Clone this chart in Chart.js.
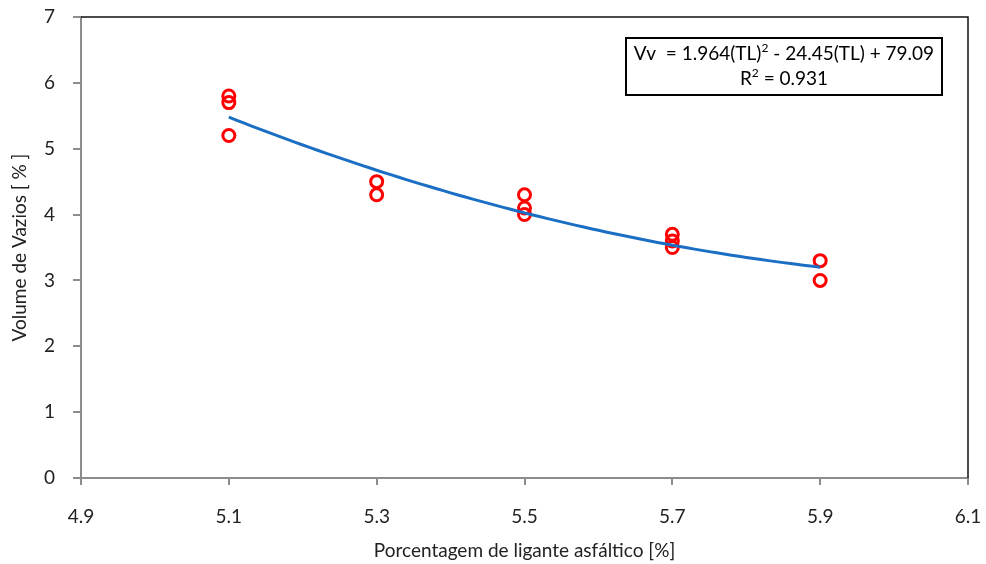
<!DOCTYPE html>
<html>
<head>
<meta charset="utf-8">
<script src="https://cdn.jsdelivr.net/npm/chart.js@4.4.0/dist/chart.umd.min.js"></script>
<style>
    html, body { margin: 0; padding: 0; background: #fff; }
    #wrap { width: 986px; height: 564px; }
</style>
</head>
<body>
<div id="wrap"><canvas id="vv-chart" width="986" height="564"></canvas></div>
<script>
// Measured voids per binder content
const binderContent = [5.1, 5.1, 5.1, 5.3, 5.3, 5.5, 5.5, 5.5, 5.7, 5.7, 5.7, 5.9, 5.9];
const voidsVolume = [5.8, 5.7, 5.2, 4.5, 4.3, 4.3, 4.1, 4.0, 3.7, 3.6, 3.5, 3.3, 3.0];

// Polynomial trendline Vv = a*TL^2 + b*TL + c
const trendCoeffs = [1.964, -24.45, 79.09];
const trendRange = [5.1, 5.9];
// Equation text, "^" marks the superscript part
const equationLines = [
    ["Vv  = 1.964(TL)", "^2", " - 24.45(TL) + 79.09"],
    ["R", "^2", " = 0.931"]
];

const xTicks = [4.9, 5.1, 5.3, 5.5, 5.7, 5.9, 6.1];

const scatterPoints = binderContent.map((x, i) => ({ x: x, y: voidsVolume[i] }));

const trendPoints = [];
for (let k = 0; k <= 80; k++) {
    const x = trendRange[0] + (trendRange[1] - trendRange[0]) * k / 80;
    trendPoints.push({ x: x, y: trendCoeffs[0] * x * x + trendCoeffs[1] * x + trendCoeffs[2] });
}

const FONT = "Lato, 'Open Sans', sans-serif";

function drawRichLine(ctx, parts, cx, cy, size) {
    const normal = size + "px " + FONT;
    const small = Math.round(size * 0.62) + "px " + FONT;
    let total = 0;
    const widths = parts.map(p => {
        ctx.font = p[0] === "^" ? small : normal;
        const w = ctx.measureText(p[0] === "^" ? p.slice(1) : p).width;
        total += w;
        return w;
    });
    let x = cx - total / 2;
    ctx.textAlign = "left";
    ctx.textBaseline = "middle";
    parts.forEach((p, i) => {
        const sup = p[0] === "^";
        ctx.font = sup ? small : normal;
        ctx.fillText(sup ? p.slice(1) : p, x, sup ? cy - size * 0.3 : cy);
        x += widths[i];
    });
}

// Black frame on top/right plus the equation box
const framePlugin = {
    id: "frame",
    afterDraw(chart) {
        const { ctx, chartArea: a } = chart;
        ctx.save();
        ctx.strokeStyle = "#111";
        ctx.lineWidth = 1.5;
        ctx.beginPath();
        ctx.moveTo(a.left, a.top);
        ctx.lineTo(a.right, a.top);
        ctx.lineTo(a.right, a.bottom);
        ctx.stroke();

        const bx = 626, by = 38, bw = 316, bh = 57;
        ctx.fillStyle = "#fff";
        ctx.fillRect(bx, by, bw, bh);
        ctx.lineWidth = 2;
        ctx.strokeStyle = "#000";
        ctx.strokeRect(bx, by, bw, bh);
        ctx.fillStyle = "#000";
        drawRichLine(ctx, equationLines[0], bx + bw / 2, by + 16, 19);
        drawRichLine(ctx, equationLines[1], bx + bw / 2, by + 41, 19);
        ctx.restore();
    }
};

const ctx = document.getElementById("vv-chart").getContext("2d");
new Chart(ctx, {
    type: "scatter",
    data: {
        datasets: [{
            label: "Trendline",
            type: "line",
            data: trendPoints,
            borderColor: "#1a6fc4",
            borderWidth: 3,
            pointRadius: 0,
            fill: false,
            tension: 0,
            order: 0
        }, {
            label: "Vv",
            data: scatterPoints,
            pointStyle: "circle",
            pointRadius: 6,
            pointBorderWidth: 3,
            pointBorderColor: "#ff0000",
            pointBackgroundColor: "rgba(255,255,255,0)",
            order: 1
        }]
    },
    options: {
        responsive: false,
        animation: false,
        layout: { padding: { top: 17, right: 18, left: 0, bottom: 0 } },
        plugins: {
            legend: { display: false },
            tooltip: { enabled: false }
        },
        scales: {
            x: {
                type: "linear",
                min: 4.9,
                max: 6.1,
                afterBuildTicks: scale => { scale.ticks = xTicks.map(v => ({ value: v })); },
                afterFit: scale => {
                    scale.height = 86;
                    scale.paddingLeft = 0;
                    scale.paddingRight = 0;
                },
                grid: { drawOnChartArea: false, drawTicks: true, tickLength: 7, color: "#8c8c8c", lineWidth: 2 },
                border: { display: true, color: "#8c8c8c", width: 2 },
                ticks: {
                    padding: 20,
                    color: "#222",
                    font: { family: FONT, size: 19 },
                    callback: v => v.toFixed(1)
                },
                title: {
                    display: true,
                    text: "Porcentagem de ligante asfáltico [%]",
                    color: "#222",
                    font: { family: FONT, size: 19 },
                    padding: { top: 10, bottom: 2 }
                }
            },
            y: {
                min: 0,
                max: 7,
                afterFit: scale => {
                    scale.width = 81;
                    scale.paddingTop = 0;
                    scale.paddingBottom = 0;
                },
                grid: { drawOnChartArea: false, drawTicks: true, tickLength: 8, color: "#8c8c8c", lineWidth: 2 },
                border: { display: true, color: "#8c8c8c", width: 2 },
                ticks: {
                    stepSize: 1,
                    padding: 18,
                    color: "#222",
                    font: { family: FONT, size: 19 }
                },
                title: {
                    display: true,
                    text: "Volume de Vazios [ % ]",
                    color: "#222",
                    font: { family: FONT, size: 19 },
                    padding: { top: 8, bottom: 4 }
                }
            }
        }
    },
    plugins: [framePlugin]
});
</script>
</body>
</html>
